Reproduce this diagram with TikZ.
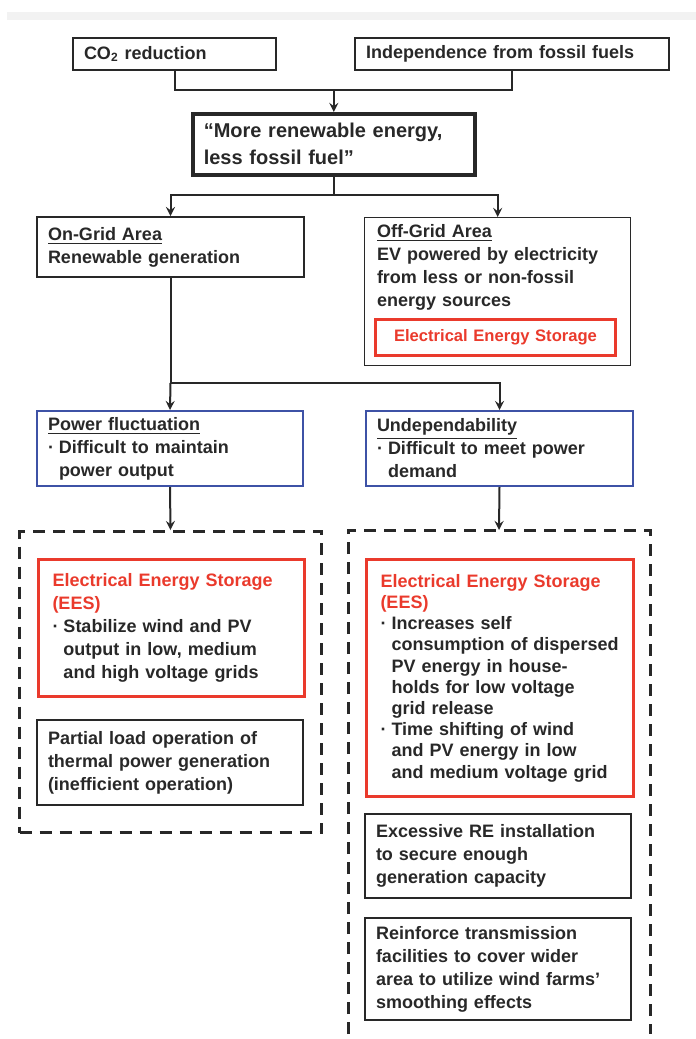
\documentclass[tikz,border=0pt]{standalone}
\usepackage{fontspec}
\setmainfont{Liberation Sans}

\definecolor{eesred}{RGB}{234,58,44}
\definecolor{fluctblue}{RGB}{62,82,166}
\definecolor{ink}{RGB}{40,40,40}

% 箇条書きの点と字下げ
\newcommand{\bul}{\makebox[5.5pt][l]{·}}
\newcommand{\ind}{\hspace*{5.5pt}}

\tikzset{
    box/.style 2 args={draw=ink, line width=1pt, anchor=north west,
        inner xsep=5.5pt, inner ysep=0pt, text width=#1, minimum height=#2,
        align=left, text=ink, font=\fontsize{9}{11.5}\selectfont\bfseries},
    bluebox/.style 2 args={box={#1}{#2}, draw=fluctblue},
    eesbox/.style 2 args={box={#1}{#2}, draw=eesred, line width=1.5pt, inner xsep=7pt},
    groupbox/.style={draw=ink, line width=1.5pt, dash pattern=on 6pt off 4pt},
    line/.style={draw=ink, line width=1pt},
    arr/.style={line, -stealth},
}

\begin{document}
\begin{tikzpicture}[x=0.5pt, y=-0.5pt]
    \useasboundingbox (0, 0) rectangle (696, 1039);
    % 上の薄い帯
    \fill[black!5] (7, 12) rectangle (696, 20);

    % 目的
    \node[box={90.5pt}{16pt}] (co2) at (72, 37) {CO\textsubscript{2} reduction};
    \node[box={146pt}{16pt}] (indep) at (354, 37) {Independence from fossil fuels};
    \node[box={130pt}{30.5pt}, line width=1.8pt,
        font=\fontsize{10}{13.5}\selectfont\bfseries] (main) at (191, 112)
        {“More renewable energy,\\less fossil fuel”};

    % 地域
    \node[box={122.5pt}{30pt}] (ongrid) at (36, 216)
        {\underline{On-Grid Area}\\Renewable generation};
    \node[box={122pt}{74pt}, line width=0.7pt] (offgrid) at (364, 217) {};
    \node[box={119pt}{0pt}, draw=none, inner xsep=0pt] (offtext) at (376, 223)
        {\underline{Off-Grid Area}\\EV powered by electricity\\from less or non-fossil\\energy sources};
    \node[eesbox={106pt}{18pt}, align=center, text=eesred,
        font=\fontsize{8.3}{10}\selectfont\bfseries] (ees0) at (374, 318)
        {Electrical Energy Storage};

    % 問題
    \node[bluebox={122pt}{37.5pt}] (fluct) at (36, 410)
        {\underline{Power fluctuation}\\\bul Difficult to maintain\\\ind power output};
    \node[bluebox={122.5pt}{37.5pt}] (undep) at (365, 410)
        {\underline{Undependability}\\\bul Difficult to meet power\\\ind demand};

    % 点線の枠
    \node[groupbox, anchor=north west, inner sep=0pt, minimum width=151pt,
        minimum height=150.5pt] (leftgroup) at (18, 530) {};
    \coordinate (rightgroup) at (499, 530);
    \draw[groupbox] (348, 1034) |- (rightgroup) -| (650, 1034);

    % 対策 (左)
    \node[eesbox={119pt}{68.5pt}] (eesleft) at (37, 558)
        {\textcolor{eesred}{Electrical Energy Storage}\\\textcolor{eesred}{(EES)}\\
         \bul Stabilize wind and PV\\\ind output in low, medium\\\ind and high voltage grids};
    \node[box={122pt}{42.5pt}] (partial) at (36, 719)
        {Partial load operation of\\thermal power generation\\(inefficient operation)};

    % 対策 (右)
    \node[eesbox={119.5pt}{118.5pt}, font=\fontsize{9}{10.6}\selectfont\bfseries] (eesright) at (365, 558)
        {\textcolor{eesred}{Electrical Energy Storage}\\\textcolor{eesred}{(EES)}\\
         \bul Increases self\\\ind consumption of dispersed\\\ind PV energy in house-\\\ind holds for low voltage\\\ind grid release\\
         \bul Time shifting of wind\\\ind and PV energy in low\\\ind and medium voltage grid};
    \node[box={122pt}{42pt}] (excess) at (364, 813)
        {Excessive RE installation\\to secure enough\\generation capacity};
    \node[box={122pt}{51pt}] (reinforce) at (364, 917)
        {Reinforce transmission\\facilities to cover wider\\area to utilize wind farms’\\smoothing effects};

    % 線
    \coordinate (j1) at (main.north |- 0, 90);
    \draw[line] (co2.south) |- (j1) -| (indep.south);
    \draw[arr] (j1) -- (main.north);
    \coordinate (j2) at (main.south |- 0, 195);
    \draw[line] (main.south) -- (j2);
    \draw[arr] (j2) -| (ongrid.north);
    \draw[arr] (j2) -| (offgrid.north);
    \coordinate (j3) at (ongrid.south |- 0, 383);
    \draw[line] (ongrid.south) -- (j3);
    \draw[arr] (j3) -- (fluct.north);
    \draw[arr] (j3) -| (undep.north);
    \draw[arr] (fluct.south) -- (leftgroup.north);
    \draw[arr] (undep.south) -- (rightgroup);
\end{tikzpicture}
\end{document}
